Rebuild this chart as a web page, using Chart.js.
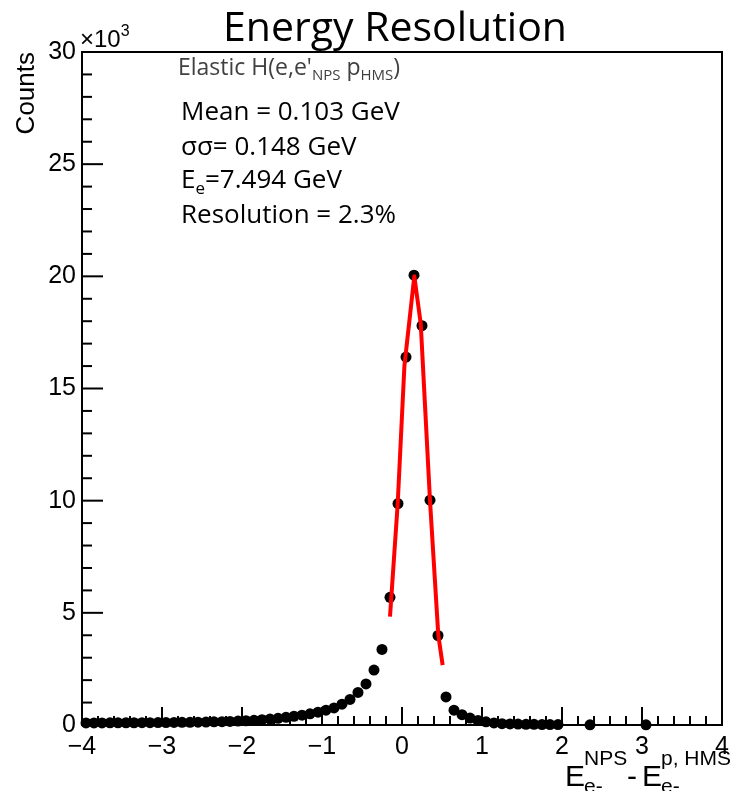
<!DOCTYPE html>
<html>
<head>
<meta charset="utf-8">
<script src="https://cdn.jsdelivr.net/npm/chart.js@4.4.1/dist/chart.umd.min.js"></script>
<style>
  html, body { margin: 0; padding: 0; background: #fff; }
  canvas { display: block; }
</style>
</head>
<body>
<canvas id="resChart" width="730" height="791"></canvas>
<script>
// Histogram bin centres (GeV) and counts
const binCenters = [
  -3.95, -3.85, -3.75, -3.65, -3.55, -3.45, -3.35, -3.25, -3.15, -3.05,
  -2.95, -2.85, -2.75, -2.65, -2.55, -2.45, -2.35, -2.25, -2.15, -2.05,
  -1.95, -1.85, -1.75, -1.65, -1.55, -1.45, -1.35, -1.25, -1.15, -1.05,
  -0.95, -0.85, -0.75, -0.65, -0.55, -0.45, -0.35, -0.25, -0.15, -0.05,
  0.05, 0.15, 0.25, 0.35, 0.45, 0.55, 0.65, 0.75, 0.85, 0.95,
  1.05, 1.15, 1.25, 1.35, 1.45, 1.55, 1.65, 1.75, 1.85, 1.95,
  2.35, 3.05
];
const counts = [
  90, 90, 90, 95, 95, 100, 100, 105, 105, 110,
  110, 115, 120, 120, 125, 130, 140, 150, 160, 175,
  190, 210, 235, 265, 300, 340, 390, 440, 500, 570,
  660, 760, 930, 1140, 1450, 1830, 2450, 3370, 5690, 9870,
  16400, 20050, 17800, 10020, 3990, 1250, 660, 460, 310, 200,
  140, 90, 60, 50, 40, 30, 30, 20, 20, 20,
  10, 10
];

// Red fit curve, vertices
const fitX = [-0.15, -0.054, 0.03, 0.154, 0.234, 0.35, 0.454, 0.508];
const fitY = [4830, 9850, 16000, 20000, 17900, 10000, 4000, 2670];

const yTickStep = 5000;
const yMinorStep = 1000;
const xTickStep = 1;
const xMinorStep = 0.2;

const numFont = 'Liberation Sans, Arial, sans-serif';
const textFont = '"Open Sans", sans-serif';

function drawRich(ctx, x, y, parts) {
  // parts: [text, size, dy, color, font]
  let cx = x;
  parts.forEach(p => {
    ctx.font = p[1] + 'px ' + (p[4] || textFont);
    ctx.fillStyle = p[3] || '#000';
    ctx.fillText(p[0], cx, y + p[2]);
    cx += ctx.measureText(p[0]).width;
  });
}

const rootFrame = {
  id: 'rootFrame',
  beforeDraw(chart) {
    const ctx = chart.ctx;
    ctx.save();
    ctx.fillStyle = '#fff';
    ctx.fillRect(0, 0, chart.width, chart.height);
    ctx.restore();
  },
  beforeDatasetsDraw(chart) {
    const { ctx, chartArea: a, scales } = chart;
    ctx.save();
    ctx.strokeStyle = '#000';
    ctx.lineWidth = 2;
    ctx.strokeRect(a.left, a.top, a.right - a.left, a.bottom - a.top);

    // x ticks, pointing inward
    const xs = scales.x;
    for (let i = 0; i <= Math.round((xs.max - xs.min) / xMinorStep); i++) {
      const v = xs.min + i * xMinorStep;
      const major = Math.abs(v / xTickStep - Math.round(v / xTickStep)) < 1e-6;
      const px = xs.getPixelForValue(v);
      ctx.beginPath();
      ctx.moveTo(px, a.bottom);
      ctx.lineTo(px, a.bottom - (major ? 18 : 9));
      ctx.stroke();
    }
    // y ticks
    const ys = scales.y;
    for (let v = ys.min; v <= ys.max + 1; v += yMinorStep) {
      const major = v % yTickStep === 0;
      const py = ys.getPixelForValue(v);
      ctx.beginPath();
      ctx.moveTo(a.left, py);
      ctx.lineTo(a.left + (major ? 21 : 10), py);
      ctx.stroke();
    }
    ctx.restore();
  },
  afterDraw(chart) {
    const { ctx } = chart;
    ctx.save();
    ctx.textBaseline = 'alphabetic';
    ctx.textAlign = 'left';

    // title
    ctx.fillStyle = '#000';
    ctx.font = '41px ' + textFont;
    ctx.textAlign = 'center';
    ctx.fillText('Energy Resolution', 395, 41);
    ctx.textAlign = 'left';

    // x10^3 multiplier
    drawRich(ctx, 80, 47, [['\u00d710', 24, 0, '#000', numFont], ['3', 16, -11, '#000', numFont]]);

    // y axis title
    ctx.save();
    ctx.translate(34, 52);
    ctx.rotate(-Math.PI / 2);
    ctx.font = '26px ' + numFont;
    ctx.fillStyle = '#000';
    ctx.textAlign = 'right';
    ctx.fillText('Counts', 0, 0);
    ctx.restore();

    // x axis title
    drawRich(ctx, 565, 786, [['E', 30, 0, '#000', numFont]]);
    drawRich(ctx, 584, 765, [['NPS', 21, 0, '#000', numFont]]);
    drawRich(ctx, 584, 793, [['e-', 21, 0, '#000', numFont]]);
    drawRich(ctx, 627, 786, [['-', 30, 0, '#000', numFont]]);
    drawRich(ctx, 642, 786, [['E', 30, 0, '#000', numFont]]);
    drawRich(ctx, 661, 765, [['p, HMS', 21, 0, '#000', numFont]]);
    drawRich(ctx, 661, 793, [['e-', 21, 0, '#000', numFont]]);

    // annotations
    const grey = '#404040';
    drawRich(ctx, 178, 75, [
      ["Elastic H(e,e'", 23, 0, grey], ['NPS', 15, 5, grey], [' p', 23, 0, grey],
      ['HMS', 15, 5, grey], [')', 23, 0, grey]
    ]);
    drawRich(ctx, 181, 120, [['Mean = 0.103 GeV', 26, 0]]);
    drawRich(ctx, 181, 155, [['\u03c3\u03c3= 0.148 GeV', 26, 0]]);
    drawRich(ctx, 181, 188, [['E', 26, 0], ['e', 17, 6], ['=7.494 GeV', 26, 0]]);
    drawRich(ctx, 181, 223, [['Resolution = 2.3%', 26, 0]]);
    ctx.restore();
  }
};

new Chart(document.getElementById('resChart'), {
  type: 'scatter',
  data: {
    datasets: [
      {
        label: 'fit',
        data: fitX.map((x, i) => ({ x: x, y: fitY[i] })),
        showLine: true,
        borderColor: 'rgb(255,0,0)',
        borderWidth: 4,
        borderJoinStyle: 'round',
        borderCapStyle: 'butt',
        pointRadius: 0,
        tension: 0,
        order: 0
      },
      {
        label: 'data',
        data: binCenters.map((x, i) => ({ x: x, y: counts[i] })),
        showLine: false,
        pointRadius: 5.5,
        pointBackgroundColor: '#000',
        pointBorderWidth: 0,
        clip: false,
        order: 1
      }
    ]
  },
  options: {
    responsive: false,
    animation: false,
    events: [],
    layout: { padding: { top: 52, right: 8, left: 0, bottom: 0 } },
    plugins: { legend: { display: false }, tooltip: { enabled: false }, title: { display: false } },
    scales: {
      x: {
        type: 'linear',
        min: -4,
        max: 4,
        grid: { display: false, drawTicks: false },
        border: { display: false },
        ticks: {
          stepSize: xTickStep,
          padding: 7,
          color: '#000',
          maxRotation: 0,
          font: { family: numFont, size: 25 },
          callback: v => (v < 0 ? '\u2212' + Math.abs(v) : String(v))
        },
        afterFit: s => { s.height = 66; s.paddingLeft = 0; s.paddingRight = 0; }
      },
      y: {
        min: 0,
        max: 30000,
        grid: { display: false, drawTicks: false },
        border: { display: false },
        ticks: {
          stepSize: yTickStep,
          padding: 6,
          color: '#000',
          font: { family: numFont, size: 25 },
          callback: v => String(v / 1000)
        },
        afterFit: s => { s.width = 82; s.paddingTop = 0; s.paddingBottom = 0; }
      }
    }
  },
  plugins: [rootFrame]
});
</script>
</body>
</html>
